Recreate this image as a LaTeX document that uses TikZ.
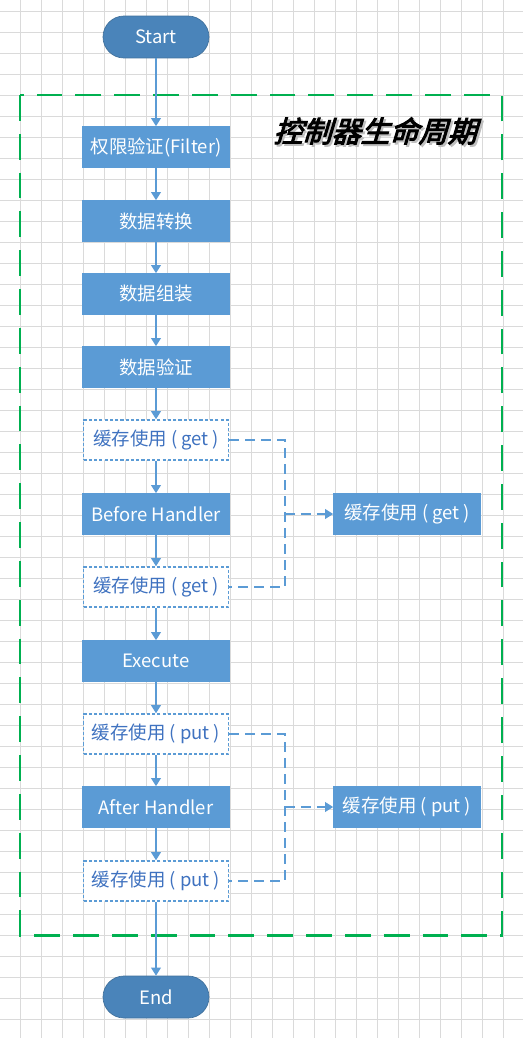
\documentclass[tikz,border=0pt]{standalone}
\usepackage{fontspec}
\setmainfont{Noto Sans CJK SC}
\newfontfamily\titlefont{Noto Sans CJK SC}[FakeSlant=0.3,FakeBold=3.5]
\usetikzlibrary{arrows.meta, positioning, backgrounds}

\definecolor{boxblue}{HTML}{5B9BD5}
\definecolor{termblue}{HTML}{4A84BA}
\definecolor{termedge}{HTML}{41719C}
\definecolor{cachetext}{HTML}{3F72C0}
\definecolor{framegreen}{HTML}{00B050}
\definecolor{gridgray}{HTML}{DADADA}

\begin{document}
\begin{tikzpicture}[
    x=0.02cm, y=-0.02cm,
    % Node styles
    termbox/.style={
        rectangle,
        rounded corners=0.42cm,
        draw=termedge,
        fill=termblue,
        text=white,
        minimum width=2.12cm,
        minimum height=0.84cm,
        font=\fontsize{10.5}{12}\selectfont
    },
    procbox/.style={
        rectangle,
        draw=boxblue,
        fill=boxblue,
        text=white,
        inner xsep=0pt,
        minimum width=2.94cm,
        minimum height=0.82cm,
        font=\fontsize{10.5}{12}\selectfont
    },
    cachebox/.style={
        rectangle,
        draw=boxblue,
        dash pattern=on 1.8pt off 1.2pt,
        line width=0.9pt,
        fill=white,
        text=cachetext,
        inner xsep=0pt,
        minimum width=2.9cm,
        minimum height=0.8cm,
        font=\fontsize{10.5}{12}\selectfont
    },
    titletext/.style={
        font=\titlefont\fontsize{16.5}{18}\selectfont
    },
    arrow/.style={
        -{Triangle[width=5.6pt,length=4.6pt]},
        line width=0.6pt,
        boxblue
    },
    cacheline/.style={
        line width=0.6pt,
        dash pattern=on 5.7pt off 3.4pt,
        boxblue
    },
    gridline/.style={
        line width=0.5pt,
        gridgray
    }
]

\useasboundingbox (0,0) rectangle (523,1038);

% === Background grid ===
\fill[white] (0,0) rectangle (523,1038);
\foreach \gx in {20,41,...,523} \draw[gridline] (\gx,0) -- (\gx,1038);
\foreach \gy in {11,32,...,1038} \draw[gridline] (0,\gy) -- (523,\gy);

% === Lifecycle frame ===
\draw[framegreen, line width=1.7pt, dash pattern=on 14.7pt off 7.4pt]
    (20,95) rectangle (502,935);
\node[titletext, text=black!25] (titleshadow) at (377,133) {控制器生命周期};
\node[titletext, text=black] (title) at (375,131) {控制器生命周期};

% === Main flow ===
\node[termbox] (start) at (156,37) {Start};
\node[procbox] (filter) at (156,147) {权限验证(Filter)};
\node[procbox] (convert) at (156,221) {数据转换};
\node[procbox] (assemble) at (156,294) {数据组装};
\node[procbox] (validate) at (156,367) {数据验证};
\node[cachebox] (getin) at (156,440) {缓存使用 ( get )};
\node[procbox] (before) at (156,514) {Before Handler};
\node[cachebox] (getout) at (156,587) {缓存使用 ( get )};
\node[procbox] (execute) at (156,661) {Execute};
\node[cachebox] (putin) at (156,734) {缓存使用 ( put )};
\node[procbox] (after) at (156,807) {After Handler};
\node[cachebox] (putout) at (156,881) {缓存使用 ( put )};
\node[termbox] (end) at (156,997) {End};

% === Cache targets (Right) ===
\node[procbox] (getcache) at (407,514) {缓存使用 ( get )};
\node[procbox] (putcache) at (407,807) {缓存使用 ( put )};

% === Arrows ===
\draw[arrow] (start) -- (filter);
\draw[arrow] (filter) -- (convert);
\draw[arrow] (convert) -- (assemble);
\draw[arrow] (assemble) -- (validate);
\draw[arrow] (validate) -- (getin);
\draw[arrow] (getin) -- (before);
\draw[arrow] (before) -- (getout);
\draw[arrow] (getout) -- (execute);
\draw[arrow] (execute) -- (putin);
\draw[arrow] (putin) -- (after);
\draw[arrow] (after) -- (putout);
\draw[arrow] (putout) -- (end);

% === Cache links ===
\coordinate (getjoin) at (285,514);
\coordinate (putjoin) at (285,807);
\draw[cacheline] (getin.east) -| (getjoin) |- (getout.east);
\draw[cacheline] (putin.east) -| (putjoin) |- (putout.east);
\draw[cacheline, -{Triangle[width=5.6pt,length=4.6pt]}] (getjoin) -- (getcache);
\draw[cacheline, -{Triangle[width=5.6pt,length=4.6pt]}] (putjoin) -- (putcache);

\end{tikzpicture}
\end{document}
